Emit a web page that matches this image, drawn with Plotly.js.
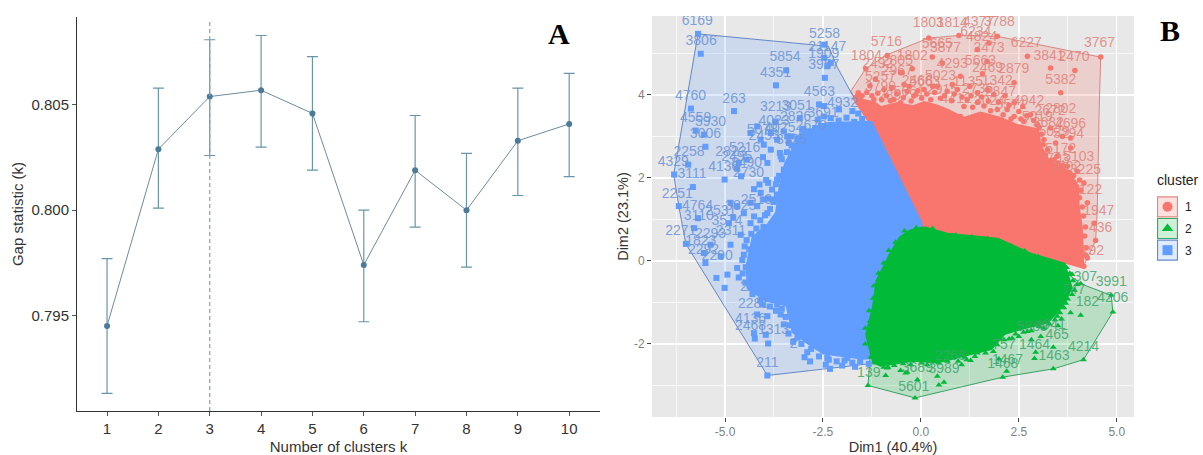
<!DOCTYPE html>
<html><head><meta charset="utf-8">
<script src="https://cdn.plot.ly/plotly-3.0.1.min.js"></script>
<style>html,body{margin:0;padding:0;background:#fff}#c{width:1203px;height:455px}</style></head>
<body><div id="c"></div>
<script>
// Panel A: gap statistic
const kValues=[1,2,3,4,5,6,7,8,9,10];
const gap=[0.7945,0.8029,0.8054,0.8057,0.8046,0.7974,0.8019,0.8000,0.8033,0.8041];
const gapHigh=[0.7977,0.8058,0.8081,0.8083,0.8073,0.8000,0.8045,0.8027,0.8058,0.8065];
const gapLow=[0.7913,0.8001,0.8026,0.8030,0.8019,0.7947,0.7992,0.7973,0.8007,0.8016];
const optimalK=3;

// Panel B: convex hulls (Dim1, Dim2)
const hullRed=[[-1.79,4.09],[-1.41,4.63],[-0.86,4.97],[0.20,5.37],[0.97,5.43],[1.95,5.41],[4.59,4.91],[4.55,3.6],[4.50,1.16],[4.46,0.49],[4.15,-0.13],[3.65,-0.05],[0.1,0.8],[-1.3,3.3]];
const hullGreen=[[-0.15,-3.30],[2.09,-2.80],[3.38,-2.60],[4.15,-2.38],[4.90,-1.23],[4.86,-0.83],[4.08,-0.55],[3.6,-0.2],[0.1,0.7],[-1.2,-1.0],[-1.35,-3.00]];
const hullBlue=[[-5.69,5.47],[-2.36,5.17],[-2.13,4.66],[-1.75,4.00],[-1.2,3.3],[0.0,0.9],[-0.3,-2.3],[-1.33,-2.48],[-3.92,-2.76],[-6.00,0.41],[-6.18,1.32],[-6.31,2.08]];

// Panel B: the dense part of each cloud, read as an outline
const massRed=[[-1.72,3.95],[-1.45,3.85],[-1.2,3.8],[-1.03,3.68],[-0.6,3.78],[-0.2,3.7],[0.08,3.8],[0.4,3.72],[0.67,3.62],[1.1,3.42],[1.52,3.55],[2.03,3.42],[2.46,3.25],[2.97,3.15],[3.03,2.76],[3.25,2.4],[3.74,2.15],[3.99,1.8],[4.0,1.32],[4.08,0.83],[4.1,0.39],[4.12,-0.13],[3.65,-0.01],[1.95,0.47],[0.08,0.79],[-0.01,0.91],[-0.69,1.8],[-1.03,2.85],[-1.28,3.33]];
const massBlue=[[-2.39,3.3],[-1.28,3.33],[-1.03,2.85],[-0.01,0.91],[0.0,-2.2],[-1.46,-2.33],[-2.48,-2.21],[-2.9,-1.95],[-3.25,-1.70],[-3.41,-1.05],[-3.96,-0.93],[-4.40,-0.64],[-4.42,-0.1],[-4.27,0.56],[-3.90,0.85],[-3.67,1.16],[-3.58,1.79],[-3.45,2.32],[-3.07,3.04]];
const massGreen=[[0.08,0.79],[0.67,0.63],[1.95,0.51],[2.8,0.15],[3.65,-0.09],[3.82,-0.65],[3.61,-1.05],[3.23,-1.46],[2.55,-1.62],[2.12,-1.74],[1.78,-2.10],[1.27,-2.22],[0.42,-2.42],[-0.18,-2.38],[-1.03,-2.5],[-1.2,-2.42],[-1.37,-1.78],[-1.2,-1.13],[-1.11,-0.49],[-0.77,0.15],[-0.52,0.55],[-0.26,0.71]];

// Panel B: individually visible observations
const pointsRed=[[0.20,5.37],[0.97,5.43],[1.95,5.41],[2.72,4.93],[3.31,4.65],[3.93,4.59],[2.38,4.29],[3.57,4.05],[4.59,4.91],[0.29,4.91],[0.55,4.77],[-0.86,4.95],[-0.22,4.63],[-0.48,4.53],[-0.43,4.25],[1.44,5.09],[1.74,5.25],[1.69,4.81],[1.57,4.51],[1.01,4.45],[0.67,4.09],[1.44,4.05],[1.86,4.01],[2.38,3.81],[2.80,3.53],[2.63,3.36],[3.31,3.2],[3.61,3.0],[3.82,2.96],[3.82,2.72],[3.44,2.84],[3.48,2.52],[3.74,2.28],[3.99,2.16],[4.16,1.88],[4.25,1.40],[4.42,0.91],[4.46,0.49],[4.16,-0.13],[4.08,0.23],[4.25,0.07],[-1.41,4.63],[-1.16,4.38],[-0.52,4.53],[-0.94,4.13],[-0.13,4.01],[-1.2,3.89],[-1.62,3.97],[-1.45,3.65],[-0.69,3.89],[-0.18,3.97],[-0.52,3.81],[0.08,4.13],[0.42,4.21],[0.93,4.13],[1.18,3.89],[1.61,3.73],[1.95,3.65],[2.2,3.65],[1.01,3.48],[1.27,3.28],[1.78,3.32],[2.38,3.48],[2.97,3.28],[3.14,2.92],[3.23,2.68],[3.40,2.44],[3.57,2.2]];
const fringeRed=[[-1.6,4.05],[-1.5,3.98],[-1.38,4.06],[-1.25,3.98],[-1.1,4.04],[-1.0,3.88],[-0.88,3.98],[-0.78,3.86],[-0.62,4.02],[-0.45,3.93],[-0.35,4.08],[-0.25,3.85],[-0.08,4.1],[0.02,3.92],[0.15,4.02],[0.25,3.88],[0.35,4.06],[0.5,3.92],[0.6,3.98],[0.78,3.86],[0.85,4.02],[1.05,3.95],[1.1,3.72],[1.28,3.98],[1.32,3.7],[1.45,3.82],[1.55,3.95],[1.72,3.85],[1.78,3.62],[1.98,3.82],[2.1,3.52],[2.25,3.75],[2.3,3.42],[2.5,3.6],[2.55,3.42],[2.7,3.5],[2.88,3.38],[3.02,3.22],[3.08,3.05],[3.12,2.8],[3.18,2.55],[3.32,2.42],[3.5,2.36],[3.62,2.3],[3.8,2.12],[3.9,2.05],[4.05,1.95],[4.08,1.7],[4.05,1.52],[4.12,1.3],[4.15,1.08],[4.2,0.82],[4.18,0.6],[4.22,0.32],[4.2,0.14],[-0.3,4.2],[0.3,4.2],[0.8,4.25],[1.25,4.2],[1.7,4.12],[2.15,3.98],[2.6,3.72],[-0.75,4.18],[-1.3,4.22]];
const pointsBlue=[[-5.69,5.47],[-5.62,4.99],[-3.44,4.59],[-3.70,4.23],[-5.87,3.67],[-4.77,3.61],[-5.75,3.14],[-5.54,3.04],[-5.50,2.75],[-5.94,2.32],[-6.30,2.08],[-5.82,1.78],[-5.01,1.96],[-6.18,1.32],[-5.69,1.03],[-4.90,0.91],[-4.59,2.04],[-4.69,2.22],[-4.65,2.36],[-4.45,2.44],[-4.12,1.84],[-3.90,1.88],[-4.26,1.73],[-4.03,2.50],[-4.01,2.80],[-3.37,2.84],[-3.41,3.0],[-3.03,3.16],[-3.09,3.44],[-3.71,3.36],[-3.50,3.12],[-2.47,3.73],[-2.60,3.77],[-2.09,3.65],[-2.47,3.48],[-2.63,3.40],[-1.75,3.61],[-2.47,4.89],[-2.30,4.77],[-2.39,4.69],[-2.45,4.41],[-2.47,5.21],[-4.18,3.24],[-4.35,3.08],[-4.09,2.92],[-3.83,3.08],[-3.67,2.92],[-3.83,2.68],[-3.58,2.52],[-3.92,2.36],[-3.50,2.2],[-3.67,1.96],[-2.83,3.08],[-2.64,2.92],[-3.16,2.76],[-2.90,2.60],[-3.28,2.44],[-4.01,1.48],[-4.35,1.40],[-4.69,1.32],[-4.52,1.15],[-4.26,1.07],[-3.92,1.15],[-4.09,1.64],[-4.86,1.40],[-3.75,1.48],[-4.35,0.91],[-4.18,1.32],[-4.79,1.04],[-6.0,0.41],[-5.79,0.79],[-5.37,0.39],[-5.54,0.19],[-5.11,0.11],[-5.50,-0.05],[-4.69,-0.17],[-5.22,-0.41],[-4.94,-0.33],[-5.01,-0.65],[-4.52,0.15],[-4.86,0.39],[-4.60,0.63],[-4.18,-1.29],[-3.92,-1.33],[-4.26,-1.74],[-4.24,-1.87],[-3.96,-1.78],[-3.90,-1.99],[-3.26,-1.95],[-2.97,-2.32],[-2.83,-2.42],[-2.43,-2.50],[-2.32,-2.60],[-2.01,-2.52],[-1.68,-2.55],[-1.33,-2.48],[-3.92,-2.76],[-2.39,-2.34],[-1.88,-2.34],[-3.67,-1.05],[-3.41,-1.01],[-3.58,-1.29],[-3.50,-1.53],[-4.05,-1.05],[-4.35,-0.65],[-4.18,-0.57]];
const fringeBlue=[[-2.3,3.44],[-2.1,3.38],[-1.9,3.45],[-1.7,3.35],[-1.5,3.42],[-2.55,3.25],[-2.7,3.2],[-2.85,3.12],[-3.0,3.18],[-2.75,3.02],[-3.15,2.95],[-3.3,2.78],[-3.42,2.62],[-3.2,2.6],[-3.55,2.45],[-3.48,2.15],[-3.62,2.05],[-3.7,1.85],[-3.68,1.6],[-3.8,1.72],[-3.76,1.42],[-3.85,1.25],[-3.98,1.1],[-4.1,0.98],[-4.02,0.82],[-4.2,0.78],[-4.33,0.65],[-4.45,0.5],[-4.38,0.28],[-4.5,0.35],[-4.56,0.02],[-4.47,-0.15],[-4.55,-0.3],[-4.48,-0.52],[-4.3,-0.8],[-4.1,-0.95],[-3.85,-1.1],[-3.7,-1.2],[-3.55,-1.15],[-3.45,-1.35],[-3.35,-1.55],[-3.38,-1.75],[-3.15,-1.85],[-3.05,-2.0],[-2.8,-2.12],[-2.6,-2.3],[-2.35,-2.38],[-2.15,-2.42],[-1.95,-2.4],[-1.75,-2.45],[-1.55,-2.42],[-3.6,2.6],[-3.3,3.0],[-3.9,1.5],[-3.95,1.95],[-4.2,0.5],[-4.65,-0.4],[-3.2,-1.6],[-2.9,-2.2],[-1.6,3.55]];
const pointsGreen=[[-0.15,-3.30],[-1.35,-3.0],[4.15,-2.38],[4.9,-1.23],[4.86,-0.83],[4.08,-0.55],[3.38,-2.08],[3.38,-2.6],[2.09,-2.8],[2.19,-2.66],[2.90,-2.35],[2.93,-2.2],[1.99,-2.36],[2.82,-1.9],[3.06,-1.82],[2.33,-1.86],[2.5,-1.82],[4.08,-1.31],[3.82,-1.25],[3.59,-1.4],[3.5,-1.56],[3.14,-1.62],[1.65,-2.22],[1.27,-2.4],[1.17,-2.38],[1.04,-2.5],[0.59,-2.92],[0.46,-2.99],[-0.09,-2.86],[0.42,-2.78],[-0.9,-2.76],[-0.39,-2.7],[-0.52,-2.64],[-0.86,-2.58],[0.46,-2.46],[-0.84,-2.56],[-0.35,-2.68],[-1.16,-2.46],[3.48,-1.33],[3.65,-1.13],[3.86,-0.81],[3.99,-0.57],[3.86,-0.33],[3.4,-0.89],[3.23,-0.73],[3.31,-1.17],[2.72,-1.70],[2.12,-1.9],[1.95,-2.02],[1.44,-2.22],[0.84,-2.3],[0.16,-2.5],[-0.26,-2.5]];
const fringeGreen=[[3.72,-0.16],[3.8,-0.3],[3.88,-0.48],[3.92,-0.7],[3.75,-0.92],[3.7,-1.02],[3.55,-1.25],[3.42,-1.42],[3.28,-1.52],[3.02,-1.58],[2.82,-1.68],[2.62,-1.72],[2.42,-1.76],[2.25,-1.88],[2.02,-1.88],[1.85,-2.18],[1.62,-2.12],[1.38,-2.3],[1.12,-2.32],[0.95,-2.42],[0.68,-2.42],[0.3,-2.42],[0.02,-2.46],[-0.45,-2.48],[-0.68,-2.52],[-0.95,-2.56],[-1.28,-2.32],[-1.42,-2.0],[-1.42,-1.62],[-1.3,-1.45],[-1.32,-1.2],[-1.22,-0.9],[-1.2,-0.6],[-1.08,-0.3],[-0.95,-0.05],[-0.82,0.25],[-0.65,0.45],[-0.42,0.72],[-0.12,0.8],[0.3,0.78],[0.9,0.62],[1.3,0.58],[1.7,0.54],[2.3,0.36],[2.65,0.24],[3.0,0.1],[3.3,0.0]];

// Panel B: observation labels [Dim1, Dim2, label]
const labelsRed=[[0.19,5.72,"1803"],[0.80,5.72,"1814"],[1.47,5.75,"4377"],[2.0,5.74,"3788"],[2.69,5.23,"6227"],[4.56,5.23,"3767"],[3.27,4.93,"3841"],[3.91,4.89,"2470"],[2.37,4.61,"2879"],[3.57,4.34,"5382"],[1.74,5.11,"2473"],[0.42,5.21,"5665"],[0.63,5.11,"3877"],[1.40,5.5,"6234"],[1.55,5.38,"4824"],[-0.88,5.27,"5716"],[-1.39,4.93,"1804"],[-0.22,4.93,"1802"],[-0.60,4.81,"2805"],[-1.1,4.72,"2492"],[-0.60,4.57,"2967"],[-1.03,4.43,"5257"],[-0.09,4.33,"2468"],[-1.03,4.17,"3799"],[1.52,4.81,"5663"],[0.8,4.72,"4293"],[1.70,4.63,"2469"],[0.50,4.45,"5023"],[1.95,4.33,"1342"],[2.03,4.05,"2847"],[2.75,3.85,"4942"],[3.57,3.65,"2802"],[2.97,3.45,"5019"],[3.82,3.28,"4696"],[3.77,3.04,"5294"],[3.57,2.68,"5172"],[4.03,2.49,"5103"],[4.2,2.18,"3225"],[4.33,1.70,"122"],[4.54,1.20,"1947"],[4.59,0.78,"436"],[4.38,0.23,"192"],[0.1,4.3,"5663"],[1.2,4.3,"1135"],[0.55,4.1,"2915"],[1.45,4.12,"2736"],[-0.3,4.05,"5661"],[-0.7,3.95,"2897"],[0.9,3.9,"4412"],[1.75,3.85,"3024"],[2.3,3.75,"5571"],[3.3,3.6,"2672"],[3.25,3.3,"3682"],[3.4,3.1,"5029"],[3.4,2.45,"2703"],[3.7,2.25,"3902"]];
const labelsBlue=[[-5.71,5.77,"6169"],[-5.61,5.28,"3806"],[-2.46,5.45,"5258"],[-2.39,5.13,"21147"],[-2.48,4.97,"1909"],[-2.48,4.71,"3957"],[-3.47,4.89,"5854"],[-3.71,4.51,"4351"],[-5.88,3.97,"4760"],[-4.77,3.89,"263"],[-3.71,3.69,"3213"],[-3.16,3.71,"3051"],[-2.59,4.05,"4563"],[-5.75,3.43,"4559"],[-5.37,3.34,"5930"],[-5.50,3.04,"3006"],[-5.92,2.62,"2258"],[-6.32,2.36,"4329"],[-5.84,2.08,"3111"],[-5.03,2.25,"4136"],[-6.22,1.60,"2251"],[-5.70,1.32,"4764"],[-5.67,1.07,"3110"],[-5.11,1.20,"2531"],[-6.13,0.70,"2271"],[-5.62,0.47,"1823"],[-5.37,0.63,"2293"],[-5.55,0.25,"2292"],[-3.92,-2.46,"211"],[-4.35,-1.41,"4136"],[-4.35,-1.58,"2468"],[-3.76,-1.68,"1313"],[-4.27,-1.04,"2281"],[-4.52,-0.64,"2"],[-3.25,-2.02,"2"],[-4.5,2.7,"5216"],[-4.0,3.0,"2453"],[-3.6,3.2,"4025"],[-4.7,2.5,"2495"],[-4.4,2.1,"2730"],[-4.6,1.3,"3825"],[-4.2,1.45,"2516"],[-2.0,3.8,"4932"],[-3.75,3.35,"4023"],[-4.05,3.15,"5078"],[-3.3,2.9,"3925"],[-4.85,2.6,"2823"],[-4.45,2.35,"8490"],[-3.2,3.45,"2826"],[-2.5,3.55,"3691"],[-2.8,3.25,"2670"],[-4.95,0.95,"3574"],[-4.85,0.7,"2311"],[-5.2,0.1,"2290"]];
const labelsGreen=[[4.86,-0.53,"3991"],[4.9,-0.91,"4206"],[4.25,-1.01,"182"],[3.48,-1.79,"465"],[4.15,-2.08,"4214"],[3.40,-2.31,"1463"],[2.12,-2.03,"757"],[2.90,-2.03,"1464"],[2.21,-2.40,"1467"],[2.09,-2.50,"1468"],[-0.18,-3.04,"5601"],[0.59,-2.62,"3989"],[-0.09,-2.58,"3689"],[-1.33,-2.70,"139"],[2.84,-1.61,"5889"],[4.2,-0.4,"307"],[3.9,-0.72,"747"],[3.3,-1.55,"4041"],[0.75,-2.3,"2268"]];

// Panel B legend
const clusterNames=["1","2","3"];
const clusterSymbols=["circle","triangle-up","square"];
const clusterColors=["#F8766D","#00BA38","#619CFF"];
const clusterFills=["rgba(248,118,109,0.22)","rgba(0,186,56,0.20)","rgba(97,156,255,0.20)"];
const clusterLines=["rgba(214,120,112,0.85)","rgba(30,150,80,0.85)","rgba(80,120,190,0.85)"];
const labelColors=["rgba(226,128,120,0.85)","rgba(60,165,105,0.85)","rgba(110,150,215,0.9)"];
const dim1Ticks=[-5,-2.5,0,2.5,5];
const dim1TickText=["-5.0","-2.5","0.0","2.5","5.0"];
const dim2Ticks=[-2,0,2,4];
const dim2TickText=["-2","0","2","4"];

const xs=a=>a.map(p=>p[0]), ys=a=>a.map(p=>p[1]), closed=a=>a.concat([a[0]]);
const A={xaxis:'x',yaxis:'y'}, B={xaxis:'x2',yaxis:'y2'}, L={xaxis:'x3',yaxis:'y3'};
const hull=(h,i)=>({...B,type:'scatter',mode:'lines',x:xs(closed(h)),y:ys(closed(h)),fill:'toself',fillcolor:clusterFills[i],line:{color:clusterLines[i],width:1},hoverinfo:'skip'});
const mass=(m,i)=>({...B,type:'scatter',mode:'lines',x:xs(closed(m)),y:ys(closed(m)),fill:'toself',fillcolor:clusterColors[i],line:{color:clusterColors[i],width:4},hoverinfo:'skip'});
const pts=(p,i)=>({...B,type:'scatter',mode:'markers',x:xs(p),y:ys(p),marker:{symbol:clusterSymbols[i],size:i==0?5.5:6,color:clusterColors[i]},hoverinfo:'skip'});
const lbl=(l,i)=>({...B,type:'scatter',mode:'text',x:l.map(d=>d[0]),y:l.map(d=>d[1]),text:l.map(d=>d[2]),textposition:'middle center',textfont:{family:'Liberation Sans, Arial, sans-serif',size:14,color:labelColors[i]},hoverinfo:'skip'});

const traces=[
 {...A,type:'scatter',mode:'lines+markers',x:kValues,y:gap,
  line:{color:'#6f8b9c',width:1},
  marker:{color:'#4c7a99',size:6,symbol:'circle'},
  error_y:{type:'data',symmetric:false,array:gapHigh.map((v,i)=>v-gap[i]),arrayminus:gapLow.map((v,i)=>gap[i]-v),color:'#6a95a8',thickness:1.2,width:5.5}},
 hull(hullRed,0),hull(hullGreen,1),hull(hullBlue,2),
 pts(pointsRed,0),pts(fringeRed,0),mass(massRed,0),
 pts(pointsBlue,2),pts(fringeBlue,2),mass(massBlue,2),
 pts(pointsGreen,1),pts(fringeGreen,1),mass(massGreen,1),
 lbl(labelsRed,0),lbl(labelsBlue,2),lbl(labelsGreen,1),
 // legend keys
 ...clusterNames.map((n,i)=>({...L,type:'scatter',mode:'markers',x:[0.5],y:[2.5-i],
   marker:{symbol:'square',size:20,color:clusterFills[i],line:{color:clusterLines[i],width:1.2}},hoverinfo:'skip'})),
 ...clusterNames.map((n,i)=>({...L,type:'scatter',mode:'markers',x:[0.5],y:[2.5-i],
   marker:{symbol:clusterSymbols[i],size:10,color:clusterColors[i]},hoverinfo:'skip'}))
];

const tickFontA={family:'Liberation Sans, Arial, sans-serif',size:15,color:'#333'};
const tickFontB={family:'Liberation Sans, Arial, sans-serif',size:12,color:'#7f7f7f'};
const titleFontA={family:'Liberation Sans, Arial, sans-serif',size:15,color:'#333'};
const titleFontB={family:'Liberation Sans, Arial, sans-serif',size:14.5,color:'#333'};
const W=1203,H=455;

const layout={
 width:W,height:H,margin:{l:0,r:0,t:0,b:0},paper_bgcolor:'#fff',plot_bgcolor:'#fff',showlegend:false,
 xaxis:{domain:[77/W,600/W],range:[0.415,10.6],tickvals:kValues,ticktext:kValues.map(String),tickfont:tickFontA,
  showgrid:false,zeroline:false,showline:true,linecolor:'#333',linewidth:1,ticks:'outside',ticklen:4,tickcolor:'#555',
  title:{text:'Number of clusters k',font:titleFontA,standoff:7}},
 yaxis:{domain:[1-411/H,1-17/H],range:[0.79046,0.80918],tickvals:[0.795,0.800,0.805],ticktext:['0.795','0.800','0.805'],tickfont:tickFontA,
  showgrid:false,zeroline:false,showline:true,linecolor:'#333',linewidth:1,ticks:'outside',ticklen:4,tickcolor:'#555',
  title:{text:'Gap statistic (k)',font:titleFontA,standoff:4}},
 xaxis2:{anchor:'y2',domain:[652/W,1134/W],range:[-6.864,5.44],tickvals:dim1Ticks,ticktext:dim1TickText,tickfont:tickFontB,
  showgrid:true,gridcolor:'#fff',gridwidth:1.4,zeroline:false,showline:false,ticks:'outside',ticklen:4,tickcolor:'#444',
  minor:{dtick:1.25,tick0:-6.25,showgrid:true,gridcolor:'#fff',gridwidth:0.7},
  title:{text:'Dim1 (40.4%)',font:titleFontB,standoff:2}},
 yaxis2:{anchor:'x2',domain:[1-417/H,1-16/H],range:[-3.76,5.90],tickvals:dim2Ticks,ticktext:dim2TickText,tickfont:tickFontB,
  showgrid:true,gridcolor:'#fff',gridwidth:1.4,zeroline:false,showline:false,ticks:'outside',ticklen:4,tickcolor:'#444',
  minor:{dtick:1,tick0:-3,showgrid:true,gridcolor:'#fff',gridwidth:0.7},
  title:{text:'Dim2 (23.1%)',font:titleFontB,standoff:1}},
 xaxis3:{anchor:'y3',domain:[1157/W,1178/W],range:[0,1],visible:false,fixedrange:true},
 yaxis3:{anchor:'x3',domain:[1-261/H,1-196/H],range:[0,3],visible:false,fixedrange:true},
 shapes:[
  {type:'rect',xref:'x2 domain',yref:'y2 domain',x0:0,x1:1,y0:0,y1:1,fillcolor:'#e8e8e8',line:{width:0},layer:'below'},
  {type:'line',xref:'x',yref:'y domain',x0:optimalK,x1:optimalK,y0:0,y1:0.995,line:{color:'#7fa3b5',width:1.2,dash:'4px,3px'}}
 ],
 annotations:[
  {text:'<b>A</b>',xref:'paper',yref:'paper',x:559/W,y:1-34/H,showarrow:false,xanchor:'center',yanchor:'middle',font:{family:'Liberation Serif, serif',size:30,color:'#000'}},
  {text:'<b>B</b>',xref:'paper',yref:'paper',x:1170/W,y:1-31/H,showarrow:false,xanchor:'center',yanchor:'middle',font:{family:'Liberation Serif, serif',size:30,color:'#000'}},
  {text:'cluster',xref:'paper',yref:'paper',x:1156/W,y:1-180/H,showarrow:false,xanchor:'left',yanchor:'middle',xshift:-1,font:{family:'Liberation Sans, Arial, sans-serif',size:14,color:'#222'}},
  ...clusterNames.map((n,i)=>({text:n,xref:'paper',yref:'paper',x:1188/W,y:1-(207+22*i)/H,showarrow:false,xanchor:'center',yanchor:'middle',font:{family:'Liberation Sans, Arial, sans-serif',size:12,color:'#222'}}))
 ]
};
Plotly.newPlot('c',traces,layout,{staticPlot:true,displayModeBar:false});
</script></body></html>
